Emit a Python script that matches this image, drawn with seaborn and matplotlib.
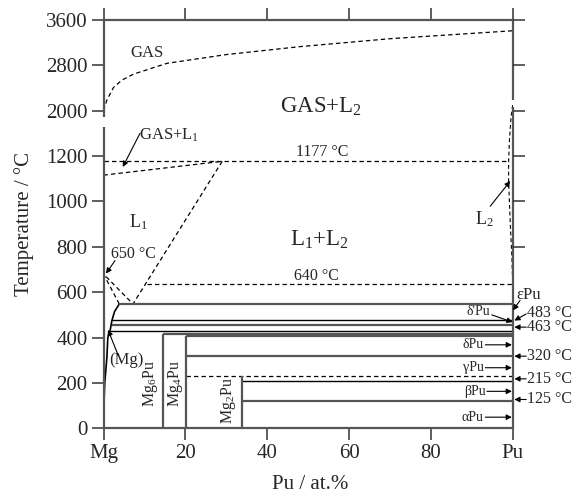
import numpy as np
import matplotlib
matplotlib.use("Agg")
import matplotlib.pyplot as plt
import seaborn as sns

sns.set_theme(style="ticks")
plt.rcParams["font.family"] = ["Liberation Serif", "DejaVu Serif"]
plt.rcParams["mathtext.fontset"] = "custom"
plt.rcParams["mathtext.rm"] = "Liberation Serif"
plt.rcParams["mathtext.it"] = "Liberation Serif:italic"

# Data
gas_x = [0, 0.8, 2.45, 4.5, 7.35, 15.5, 30, 48, 70, 100]
gas_t = [2000, 2185, 2412, 2540, 2646, 2836, 2990, 3130, 3270, 3410]

gasl1_x = [0, 29]
gasl1_t = [1116, 1177]

liq1_x = [29, 7.2]
liq1_t = [1177, 548]

mgmelt_x = [3.85, 0, 7.2]
mgmelt_t = [548, 680, 548]

l2_x = [100, 99.6, 99.2, 99.0, 99.0, 99.4, 99.8, 100]
l2_t = [2099, 1892, 1481, 1174, 1094, 902, 755, 637]

mgss_x = [0, 0.1, 0.3, 0.83, 1.05, 1.6, 2.05, 2.7, 3.85]
mgss_t = [0, 100, 200, 313, 400, 430, 475, 515, 548]

# dashed isotherms: temperature, start, end
dash_t = [1177, 635, 229]
dash_x0 = [0, 10.6, 20.1]
dash_x1 = [98.9, 100, 100]

# solid isotherms
iso_t = [548, 478, 456, 430, 414, 405, 318, 208, 120]
iso_x0 = [3.85, 2.05, 1.95, 1.6, 14.6, 20.1, 20.1, 33.9, 33.9]
iso_dark = [False, True, False, True, False, False, False, True, False]

# compounds
comp_x = [14.6, 20.1, 33.9]
comp_top = [414, 405, 229]
comp_names = [r"Mg$_\mathrm{6}$Pu", r"Mg$_\mathrm{4}$Pu", r"Mg$_\mathrm{2}$Pu"]

ytick_vals = [0, 200, 400, 600, 800, 1000, 1200, 2000, 2800, 3600]
xtick_vals = [0, 20, 40, 60, 80, 100]
xtick_labels = ["Mg", "20", "40", "60", "80", "Pu"]


def fwd(t):
    t = np.asarray(t, dtype=float)
    return np.where(t <= 1200, t, 1200 + (t - 1200) / 4)


def inv(m):
    m = np.asarray(m, dtype=float)
    return np.where(m <= 1200, m, 1200 + (m - 1200) * 4)


GRAY = "#555555"
fig = plt.figure(figsize=(5.79, 4.96), dpi=100)
ax = fig.add_axes([0.1788, 0.1365, 0.7067, 0.8232])
ax.set_yscale("function", functions=(fwd, inv))
ax.set_xlim(0, 100)
ax.set_ylim(0, 3600)

dash = (0, (3.5, 2.5))
kw = dict(ax=ax, sort=False, estimator=None, color="black", lw=0.9)
sns.lineplot(x=gas_x, y=gas_t, linestyle=dash, **kw)
sns.lineplot(x=gasl1_x, y=gasl1_t, linestyle=dash, **kw)
sns.lineplot(x=liq1_x, y=liq1_t, linestyle=dash, **kw)
sns.lineplot(x=mgmelt_x, y=mgmelt_t, linestyle=dash, **kw)
sns.lineplot(x=l2_x, y=l2_t, linestyle=dash, ax=ax, sort=False, estimator=None,
             color="black", lw=0.8)
sns.lineplot(x=mgss_x, y=mgss_t, ax=ax, sort=False, estimator=None, color="black", lw=1.2)

ax.hlines(dash_t, dash_x0, dash_x1, colors="black", lw=0.9, linestyles=dash)
ax.hlines(iso_t, iso_x0, 100, colors=["black" if d else GRAY for d in iso_dark],
          lw=[1.0 if d else 1.6 for d in iso_dark])
ax.vlines(comp_x, 0, comp_top, colors=GRAY, lw=1.6)

# compound labels
for cx, name, ty in zip([11.5, 17.5, 30.5], comp_names, [197, 197, 122]):
    ax.text(cx, ty, name, rotation=90, ha="center", va="center", fontsize=11.5)

# region labels
ax.text(10.6, 3012, "GAS", ha="center", va="center", fontsize=12)
ax.text(53.2, 2068, r"GAS+L$_\mathrm{2}$", ha="center", va="center", fontsize=16.5)
ax.text(15.9, 1564, r"GAS+L$_\mathrm{1}$", ha="center", va="center", fontsize=12)
ax.text(53.4, 1274, "1177 °C", ha="center", va="center", fontsize=11.5)
ax.text(8.5, 910, r"L$_\mathrm{1}$", ha="center", va="center", fontsize=13)
ax.text(52.8, 829, r"L$_\mathrm{1}$+L$_\mathrm{2}$", ha="center", va="center", fontsize=16.5)
ax.text(52.1, 670, "640 °C", ha="center", va="center", fontsize=11.5)
ax.text(7.3, 770, "650 °C", ha="center", va="center", fontsize=11.5)
ax.text(93.0, 920, r"L$_\mathrm{2}$", ha="center", va="center", fontsize=13)
ax.text(5.7, 299, "(Mg)", ha="center", va="center", fontsize=12)

arrow = dict(arrowstyle="-|>", color="black", lw=0.8, mutation_scale=8,
             shrinkA=0, shrinkB=0)


def arr(tail, tip):
    ax.annotate("", xy=tip, xytext=tail, arrowprops=arrow, annotation_clip=False)


arr((8.9, 1600), (4.7, 1152))
arr((2.8, 739), (0.6, 682))
arr((94.5, 979), (99.4, 1090))
arr((3.6, 321), (1.1, 434))

# right side phase annotations
ax.text(103.9, 589, "εPu", ha="center", va="center", fontsize=12, clip_on=False)
arr((101.8, 564), (100.05, 520))
ax.text(103.6, 510, "483 °C", ha="left", va="center", fontsize=11.5, clip_on=False)
arr((103.3, 504), (100.4, 475))
ax.text(103.6, 446, "463 °C", ha="left", va="center", fontsize=11.5, clip_on=False)
arr((103.3, 446), (100.4, 446))
ax.text(94.5, 515, "δ'Pu", ha="right", va="center", fontsize=10)
arr((94.9, 500), (99.95, 468))
for lab, t, xr in [("δPu", 368, 92.9), ("γPu", 267, 92.9), ("βPu", 163, 93.3), ("αPu", 49, 92.9)]:
    ax.text(xr, t, lab, ha="right", va="center", fontsize=10)
    arr((xr + 0.4, t), (99.8, t))
for lab, t in [("320 °C", 318), ("215 °C", 218), ("125 °C", 127)]:
    ax.text(103.6, t, lab, ha="left", va="center", fontsize=11.5, clip_on=False)
    arr((103.3, t), (100.4, t))

# axes and ticks
ax.set_xticks(xtick_vals)
ax.set_xticklabels(xtick_labels)
ax.set_yticks(ytick_vals)
ax.set_yticklabels([str(v) for v in ytick_vals])
ax.yaxis.set_minor_locator(matplotlib.ticker.NullLocator())
ax.tick_params(axis="both", direction="out", length=8.5, width=1.1, color="#333333",
               labelsize=15, pad=3)
ax.tick_params(axis="x", top=True, labeltop=False)
ax.set_xlabel("Pu / at.%", fontsize=15)
ax.set_ylabel("Temperature / °C", fontsize=15)
ax.xaxis.set_label_coords(0.505, -0.115)
ax.yaxis.set_label_coords(-0.17, 0.5)

ax2 = ax.twinx()
ax2.set_yscale("function", functions=(fwd, inv))
ax2.set_ylim(0, 3600)
ax2.set_yticks([800, 1000, 1200, 2000, 2800, 3600])
ax2.set_yticklabels([])
ax2.yaxis.set_minor_locator(matplotlib.ticker.NullLocator())
ax2.tick_params(axis="y", direction="out", length=8.5, width=1.1, color="#333333")
for s in ax2.spines.values():
    s.set_visible(False)

for side in ["top", "bottom"]:
    ax.spines[side].set_color(GRAY)
    ax.spines[side].set_linewidth(1.6)
for side in ["left", "right"]:
    ax.spines[side].set_visible(False)

# broken vertical axes
for xs, segs in [(0, [(0, 0.738), (0.763, 1)]), (1, [(0, 0.787), (0.804, 1)])]:
    for y0, y1 in segs:
        ax.plot([xs, xs], [y0, y1], transform=ax.transAxes, color=GRAY, lw=1.6,
                clip_on=False, solid_capstyle="butt")

fig.savefig("out.png", dpi=100)
